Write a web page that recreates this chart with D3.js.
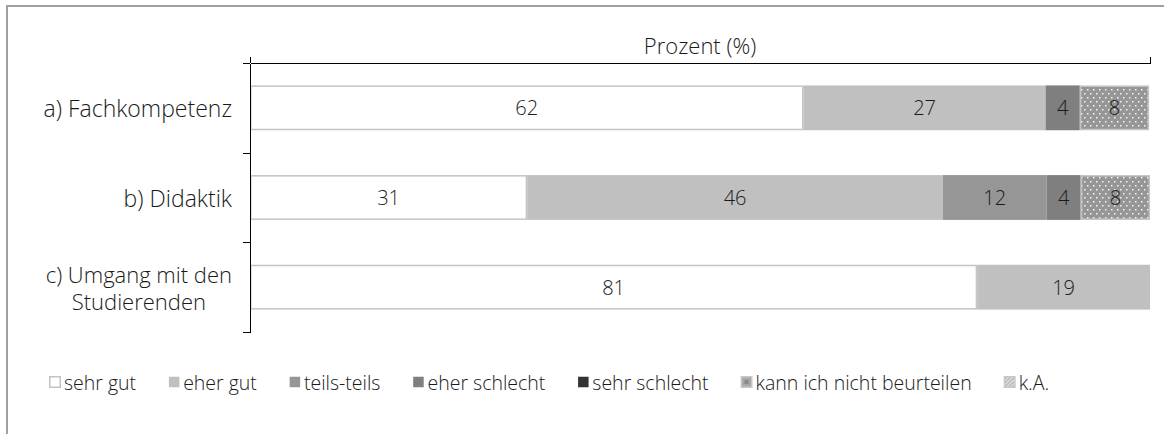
<!DOCTYPE html>
<html>
<head>
<meta charset="utf-8">
<script src="https://cdn.jsdelivr.net/npm/d3@7"></script>
<style>
  html, body { margin: 0; background: #fff; overflow: hidden; }
  svg { display: block; }
  svg text { font-family: "Open Sans", Roboto, sans-serif; font-weight: 300; fill: #1a1a1a; }
</style>
</head>
<body>
<div id="chart"></div>
<script>
// Categories (y axis), line breaks marked with \n
const categories = ["a) Fachkompetenz", "b) Didaktik", "c) Umgang mit den\nStudierenden"];

// Series values in percent, one entry per category
const sehrGut      = [61.5, 30.8, 80.8];
const eherGut      = [26.9, 46.2, 19.2];
const teilsTeils   = [0, 11.5, 0];
const eherSchlecht = [3.8, 3.8, 0];
const sehrSchlecht = [0, 0, 0];
const kannNicht    = [7.7, 7.7, 0];
const keineAngabe  = [0, 0, 0];

const seriesNames = ["sehr gut", "eher gut", "teils-teils", "eher schlecht", "sehr schlecht", "kann ich nicht beurteilen", "k.A."];
const seriesValues = [sehrGut, eherGut, teilsTeils, eherSchlecht, sehrSchlecht, kannNicht, keineAngabe];

const axisTitle = "Prozent (%)";

const width = 1164, height = 434;

const svg = d3.select("#chart").append("svg")
    .attr("width", width)
    .attr("height", height);

// Patterns
const defs = svg.append("defs");
const dots = defs.append("pattern")
    .attr("id", "dots")
    .attr("patternUnits", "userSpaceOnUse")
    .attr("width", 6).attr("height", 8);
dots.append("rect").attr("width", 6).attr("height", 8).attr("fill", "#969696");
dots.append("rect").attr("x", 1).attr("y", 1).attr("width", 1.5).attr("height", 1.5).attr("fill", "#f4f4f4");
dots.append("rect").attr("x", 4).attr("y", 5).attr("width", 1.5).attr("height", 1.5).attr("fill", "#f4f4f4");

const diag = defs.append("pattern")
    .attr("id", "diag")
    .attr("patternUnits", "userSpaceOnUse")
    .attr("width", 4).attr("height", 4);
diag.append("rect").attr("width", 4).attr("height", 4).attr("fill", "#bfbfbf");
diag.append("path").attr("d", "M0,4 L4,0").attr("stroke", "#f0f0f0").attr("stroke-width", 1);

const fills = ["#ffffff", "#c0c0c0", "#969696", "#7f7f7f", "#333333", "url(#dots)", "url(#diag)"];
const strokes = ["#c3c3c3", "none", "none", "none", "none", "#c3c3c3", "none"];

// Outer frame, only top and left edges are visible
svg.append("path")
    .attr("d", `M7,${height} V6 H${width}`)
    .attr("fill", "none")
    .attr("stroke", "#a0a0a0")
    .attr("stroke-width", 2);

// Scales
const x = d3.scaleLinear().domain([0, 100]).range([250, 1150]);
const y = d3.scaleBand().domain(categories).range([63, 332])
    .paddingInner(0.5).paddingOuter(0.25);

// Stacked data
const table = categories.map((c, i) => {
    const row = { category: c };
    seriesNames.forEach((s, j) => row[s] = seriesValues[j][i]);
    return row;
});
const stacked = d3.stack().keys(seriesNames)(table);

const layers = svg.selectAll("g.layer")
    .data(stacked)
    .join("g")
    .attr("class", "layer");

const inset = j => strokes[j] !== "none" ? 0.75 : 0;

layers.selectAll("rect")
    .data((d, j) => d.map(p => ({ p, j })).filter(e => e.p[1] - e.p[0] > 0))
    .join("rect")
    .attr("x", e => x(e.p[0]) + inset(e.j))
    .attr("y", e => y(e.p.data.category) + inset(e.j))
    .attr("width", e => x(e.p[1]) - x(e.p[0]) - 2 * inset(e.j))
    .attr("height", e => y.bandwidth() - 2 * inset(e.j))
    .attr("fill", e => fills[e.j])
    .attr("stroke", e => strokes[e.j])
    .attr("stroke-width", 1.5);

// Data labels
layers.selectAll("text")
    .data(d => d.filter(p => p[1] - p[0] > 0))
    .join("text")
    .attr("x", p => (x(p[0]) + x(p[1])) / 2)
    .attr("y", p => y(p.data.category) + y.bandwidth() / 2)
    .attr("text-anchor", "middle")
    .attr("dominant-baseline", "central")
    .style("font-size", "20px")
    .text(p => Math.round(p[1] - p[0]));

// Top axis (no labels, ticks at both ends)
svg.append("g")
    .attr("transform", "translate(0,63)")
    .call(d3.axisTop(x).tickValues([0, 100]).tickSize(6).tickSizeOuter(0).tickFormat(""))
    .call(g => g.selectAll("path, line").attr("stroke", "#000").attr("shape-rendering", "crispEdges"));

// Left axis: ticks at category boundaries
const yb = d3.scaleLinear().domain([0, categories.length]).range([63, 332]);
svg.append("g")
    .attr("transform", "translate(250,0)")
    .call(d3.axisLeft(yb).tickValues(d3.range(categories.length + 1)).tickSize(7).tickSizeOuter(0).tickFormat(""))
    .call(g => g.selectAll("path, line").attr("stroke", "#000").attr("shape-rendering", "crispEdges"));

// Category labels: block right-aligned at the axis, lines centred in the block
categories.forEach(c => {
    const lines = c.split("\n");
    const cy = y(c) + y.bandwidth() / 2;
    const t = svg.append("text")
        .attr("text-anchor", "middle")
        .style("font-size", lines.length > 1 ? "22px" : "23px");
    const spans = lines.map((l, i) => t.append("tspan")
        .attr("y", cy + (i - (lines.length - 1) / 2) * 27)
        .attr("dominant-baseline", "central")
        .text(l));
    const maxW = d3.max(spans, s => s.node().getComputedTextLength());
    spans.forEach(s => s.attr("x", 232 - maxW / 2));
});

// Axis title
svg.append("text")
    .attr("x", (x(0) + x(100)) / 2)
    .attr("y", 45)
    .attr("text-anchor", "middle")
    .attr("dominant-baseline", "central")
    .style("font-size", "22px")
    .text(axisTitle);

// Legend
const legend = svg.append("g").attr("transform", "translate(49,382)");
let lx = 0;
seriesNames.forEach((s, j) => {
    const item = legend.append("g").attr("transform", `translate(${lx},0)`);
    item.append("rect")
        .attr("x", 0.75).attr("y", -5.25)
        .attr("width", 10.5).attr("height", 10.5)
        .attr("fill", fills[j] === "url(#dots)" ? "#a8a8a8" : fills[j])
        .attr("stroke", j === 0 ? "#c3c3c3" : (j >= 5 ? "#c8c8c8" : "none"))
        .attr("stroke-width", 1.5);
    if (j === 5) {
        item.append("rect").attr("x", 4).attr("y", -2).attr("width", 4).attr("height", 4).attr("fill", "#8a8a8a");
    }
    const t = item.append("text")
        .attr("x", 15)
        .attr("y", 0)
        .attr("dominant-baseline", "central")
        .style("font-size", "19.5px")
        .text(s);
    lx += 15 + t.node().getComputedTextLength() + 32;
});
</script>
</body>
</html>
